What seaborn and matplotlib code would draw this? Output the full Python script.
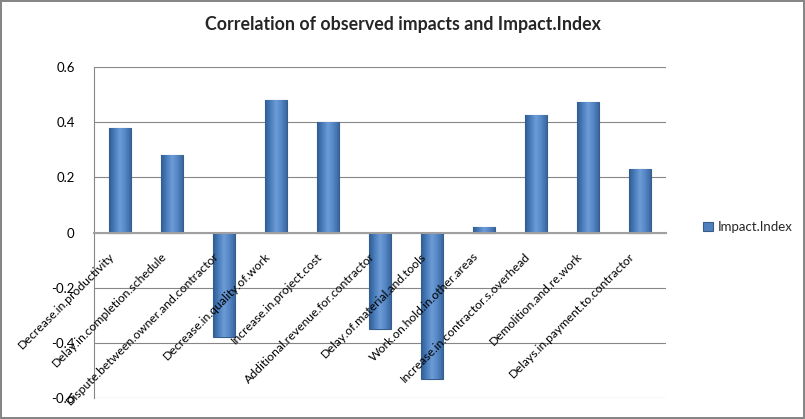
import seaborn as sns
import matplotlib.pyplot as plt
import numpy as np
import pandas as pd
from matplotlib.colors import LinearSegmentedColormap
from matplotlib.ticker import FuncFormatter, FixedLocator
from matplotlib.transforms import ScaledTranslation

categories = [
    "Decrease.in.productivity",
    "Delay.in.completion.schedule",
    "Dispute.between.owner.and.contractor",
    "Decrease.in.quality.of.work",
    "Increase.in.project.cost",
    "Additional.revenue.for.contractor",
    "Delay.of.material.and.tools",
    "Work.on.hold.in.other.areas",
    "Increase.in.contractor.s.overhead",
    "Demolition.and.re.work",
    "Delays.in.payment.to.contractor",
]
impact_index = [0.38, 0.28, -0.38, 0.48, 0.40, -0.35, -0.53, 0.02, 0.425, 0.475, 0.23]
y_ticks = [-0.6, -0.4, -0.2, 0, 0.2, 0.4, 0.6]

sns.set_theme(style="white", rc={
    "axes.edgecolor": "#868686",
    "axes.linewidth": 0.8,
    "xtick.color": "black",
    "ytick.color": "black",
})
plt.rcParams["font.family"] = ["Lato", "DejaVu Sans"]

df = pd.DataFrame({"label": categories, "value": impact_index})

fig = plt.figure(figsize=(8.05, 4.19), dpi=100, linewidth=1.5, edgecolor="#868686")
ax = fig.add_axes([0.117, 0.050, 0.71, 0.79])

# gridlines behind the bars (back wall)
for t in y_ticks:
    ax.axhline(t, color="#868686", linewidth=0.8, zorder=0)

sns.barplot(
    data=df, x="label", y="value", ax=ax,
    color="#4f81bd", width=0.42, saturation=1,
    edgecolor="#385d8a", linewidth=0.8,
    label="Impact.Index", zorder=1,
)

ax.set_ylim(-0.6, 0.6)
ax.set_xlim(-0.5, len(categories) - 0.5)

# cylinder-like shading across each bar
shade = LinearSegmentedColormap.from_list(
    "cyl", ["#2f5b92", "#4a7dbc", "#6d9cd6", "#5587c6", "#3a679f"])
grad = np.linspace(0, 1, 64).reshape(1, -1)
for bar in ax.patches:
    x0, y0 = bar.get_x(), bar.get_y()
    w, h = bar.get_width(), bar.get_height()
    im = ax.imshow(grad, cmap=shade, aspect="auto",
                   extent=[x0, x0 + w, y0, y0 + h], zorder=1.1)
    im.set_clip_path(bar)
ax.set_ylim(-0.6, 0.6)
ax.set_xlim(-0.5, len(categories) - 0.5)

ax.set_yticks(y_ticks)
ax.yaxis.set_major_formatter(FuncFormatter(lambda v, p: f"{v:g}"))
ax.set_axisbelow(False)
ax.tick_params(axis="y", labelsize=9.5, length=0, pad=14)

# Excel-style tick marks between categories
n = len(categories)
ax.xaxis.set_minor_locator(FixedLocator([i + 0.5 for i in range(-1, n)]))
ax.tick_params(axis="x", which="minor", length=5, color="#a0a0a0", direction="out", width=1)
ax.tick_params(axis="x", which="major", labelsize=8.8, length=0, pad=13)

ax.spines["top"].set_visible(False)
ax.spines["right"].set_visible(False)
ax.spines["bottom"].set_position(("data", 0))
ax.spines["bottom"].set_color("#a0a0a0")
ax.spines["bottom"].set_linewidth(1.5)
shift = ScaledTranslation(-8 / 72, 0, fig.dpi_scale_trans)
for lab in ax.get_xticklabels():
    lab.set_rotation(45)
    lab.set_ha("right")
    lab.set_rotation_mode("anchor")
    lab.set_transform(lab.get_transform() + shift)
ax.set_xlabel("")
ax.set_ylabel("")

fig.suptitle("Correlation of observed impacts and Impact.Index",
             fontsize=12.8, fontweight="bold", y=0.962)

ax.legend(loc="center left", bbox_to_anchor=(1.045, 0.517), frameon=False,
          fontsize=9.5, handlelength=0.7, handleheight=0.7, handletextpad=0.4)

fig.savefig("out.png", dpi=100, edgecolor=fig.get_edgecolor())
